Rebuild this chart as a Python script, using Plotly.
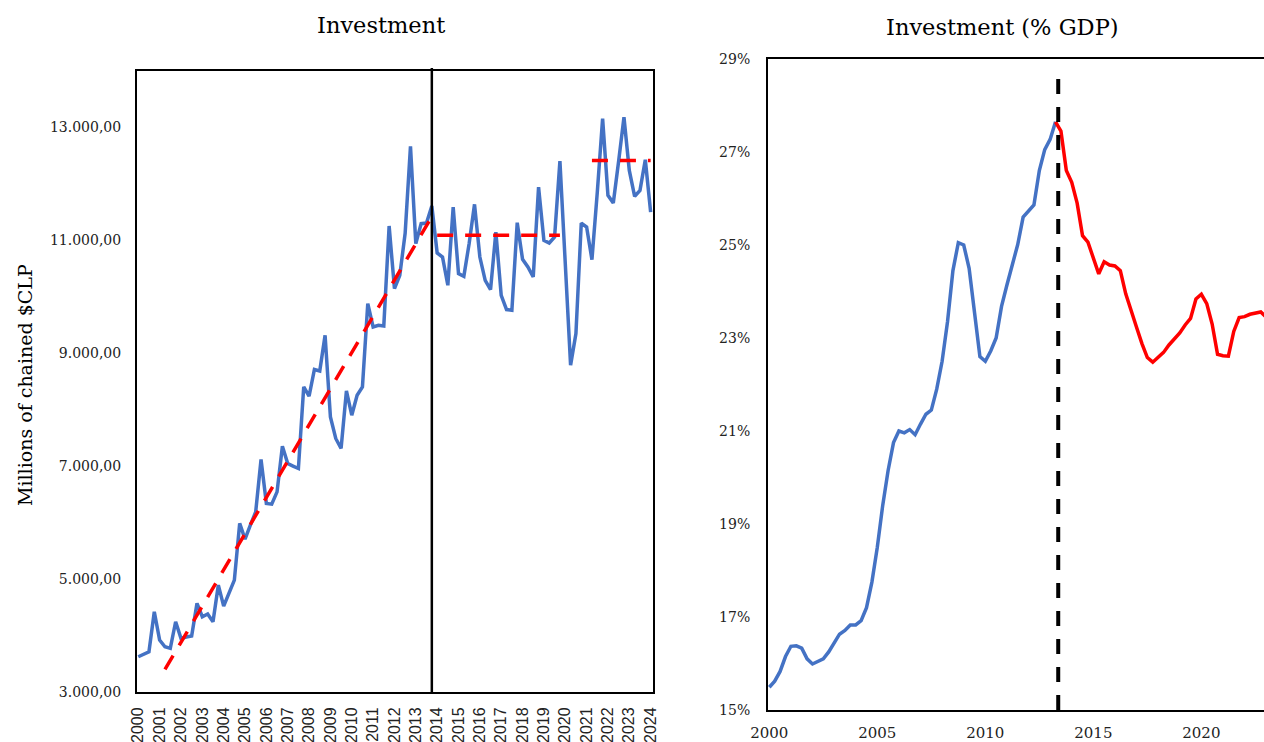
import plotly.graph_objects as go

# ---------------- DATA ----------------
start_year = 2000
tick_years_left = list(range(2000, 2025))
investment = [3625, 3664, 3713, 4421, 3920, 3802, 3773, 4244, 3950, 3974,
              3991, 4570, 4333, 4381, 4244, 4894, 4522, 4752, 4982, 5986,
              5708, 5956, 6191, 7119, 6340, 6328, 6545, 7354, 7048, 7000,
              6959, 8404, 8239, 8712, 8687, 9319, 7873, 7491, 7314, 8333,
              7903, 8257, 8404, 9880, 9466, 9496, 9484, 11254, 10146, 10381,
              11125, 12664, 10942, 11296, 11307, 11608, 10776, 10705, 10204, 11590,
              10411, 10363, 10950, 11638, 10705, 10292, 10128, 11147, 10027, 9774,
              9761, 11314, 10664, 10528, 10351, 11944, 11000, 10953, 11059, 12404,
              10600, 8788, 9349, 11307, 11236, 10659, 11850, 13155, 11797, 11661,
              12400, 13183, 12239, 11779, 11885, 12428, 11501]
trend_dates = [2001.25, 2013.75]
trend_values = [3400, 11420]
mean1_dates = [2014.0, 2019.75]
mean1_values = [11090, 11090]
mean2_dates = [2021.25, 2024.0]
mean2_values = [12416, 12416]
break_left = 2013.75

gdp_pre = [15.49, 15.62, 15.83, 16.15, 16.37, 16.38, 16.33, 16.10, 15.99, 16.04,
           16.10, 16.25, 16.45, 16.63, 16.71, 16.83, 16.83, 16.92, 17.2, 17.75,
           18.5, 19.4, 20.15, 20.75, 21.0, 20.96, 21.03, 20.92, 21.15, 21.36,
           21.45, 21.9, 22.5, 23.35, 24.45, 25.05, 25.0, 24.5, 23.55, 22.6,
           22.5, 22.72, 23.0, 23.68, 24.14, 24.56, 25.01, 25.6, 25.74, 25.86,
           26.6, 27.05, 27.27, 27.65]
gdp_post = [27.65, 27.45, 26.6, 26.35, 25.9, 25.2, 25.06, 24.71, 24.38, 24.64,
            24.57, 24.55, 24.45, 23.95, 23.56, 23.23, 22.88, 22.58, 22.48, 22.58,
            22.69, 22.85, 22.97, 23.11, 23.28, 23.42, 23.84, 23.94, 23.74, 23.3,
            22.65, 22.62, 22.61, 23.14, 23.44, 23.46, 23.51, 23.54, 23.56, 23.45]
gdp_break = 2013.375
right_ticks = [2000, 2005, 2010, 2015, 2020]
right_yticks = [15, 17, 19, 21, 23, 25, 27, 29]

# ---------------- FIGURE ----------------
W, H = 1264, 742
BLUE = "#4472C4"
RED = "#FF0000"
SERIF = "DejaVu Serif"

x_inv = [start_year + i / 4 for i in range(len(investment))]
x_pre = [start_year + i / 4 for i in range(len(gdp_pre))]
post_start = len(gdp_pre) - 1
x_post = [start_year + (post_start + i) / 4 for i in range(len(gdp_post))]

def px_x(p):
    return p / W

def px_y(p):
    return (H - p) / H

fig = go.Figure()

fig.add_trace(go.Scatter(x=x_inv, y=investment, mode="lines",
                         line=dict(color=BLUE, width=3.5), xaxis="x", yaxis="y",
                         showlegend=False))
for dx, dy in [(trend_dates, trend_values), (mean1_dates, mean1_values), (mean2_dates, mean2_values)]:
    fig.add_trace(go.Scatter(x=dx, y=dy, mode="lines",
                             line=dict(color=RED, width=3.5, dash="16px,12px"),
                             xaxis="x", yaxis="y", showlegend=False))

fig.add_trace(go.Scatter(x=x_pre, y=gdp_pre, mode="lines",
                         line=dict(color=BLUE, width=3.5), xaxis="x2", yaxis="y2",
                         showlegend=False))
fig.add_trace(go.Scatter(x=x_post, y=gdp_post, mode="lines",
                         line=dict(color=RED, width=3.5), xaxis="x2", yaxis="y2",
                         showlegend=False))

fig.update_layout(
    width=W, height=H,
    margin=dict(l=0, r=0, t=0, b=0),
    paper_bgcolor="white", plot_bgcolor="white",
    separators=",.",
    xaxis=dict(domain=[px_x(137), px_x(653)], range=[1999.94, 2024.11],
               tickmode="array", tickvals=tick_years_left,
               ticktext=[str(y) for y in tick_years_left],
               tickangle=-90, showgrid=False, zeroline=False,
               showline=True, linecolor="black", linewidth=2, mirror=True,
               ticks="", ticklabelstandoff=7,
               tickfont=dict(family="Liberation Sans", size=16, color="#222"),
               automargin=False, anchor="y"),
    yaxis=dict(domain=[px_y(692), px_y(71)], range=[3000, 14000],
               tickmode="array", tickvals=[3000, 5000, 7000, 9000, 11000, 13000],
               tickformat=",.2f", showgrid=False, zeroline=False,
               showline=True, linecolor="black", linewidth=2, mirror=True,
               ticks="", ticklabelstandoff=11,
               tickfont=dict(family=SERIF, size=14, color="#222"),
               automargin=False, anchor="x"),
    xaxis2=dict(domain=[px_x(768), 1.0], range=[1999.94, 2022.90],
                tickmode="array", tickvals=right_ticks,
                ticktext=[str(y) for y in right_ticks],
                showgrid=False, zeroline=False,
                showline=True, linecolor="black", linewidth=2, mirror=True,
                ticks="", ticklabelstandoff=8,
                tickfont=dict(family=SERIF, size=15, color="#222"),
                automargin=False, anchor="y2"),
    yaxis2=dict(domain=[px_y(710), px_y(59)], range=[15, 29],
                tickmode="array", tickvals=right_yticks,
                ticktext=[f"{v}%" for v in right_yticks],
                showgrid=False, zeroline=False,
                showline=True, linecolor="black", linewidth=2, mirror=False,
                ticks="", ticklabelstandoff=13,
                tickfont=dict(family=SERIF, size=14, color="#222"),
                automargin=False, anchor="x2"),
)

fig.add_shape(type="line", xref="x", yref="paper", x0=break_left, x1=break_left,
              y0=px_y(692), y1=px_y(68), line=dict(color="black", width=2.5))
fig.add_shape(type="line", xref="x2", yref="paper", x0=gdp_break, x1=gdp_break,
              y0=px_y(710), y1=px_y(77), line=dict(color="black", width=4, dash="15px,13px"))

fig.add_annotation(text="Investment", xref="paper", yref="paper",
                   x=px_x(381), y=px_y(25), xanchor="center", yanchor="middle",
                   showarrow=False, font=dict(family=SERIF, size=22.5, color="black"))
fig.add_annotation(text="Investment (% GDP)", xref="paper", yref="paper",
                   x=px_x(1002), y=px_y(27), xanchor="center", yanchor="middle",
                   showarrow=False, font=dict(family=SERIF, size=22.5, color="black"))
fig.add_annotation(text="Millions of chained $CLP", xref="paper", yref="paper",
                   x=px_x(25), y=px_y(385), xanchor="center", yanchor="middle",
                   showarrow=False, textangle=-90,
                   font=dict(family=SERIF, size=19, color="black"))

fig.write_html("out.html", config={"displayModeBar": False},
               post_script="document.body.style.margin='0';document.body.style.overflow='hidden';")
